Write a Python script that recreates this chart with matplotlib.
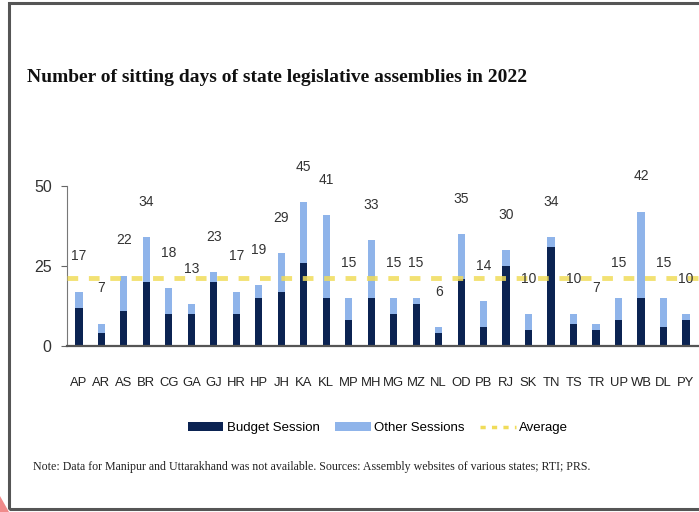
import matplotlib.pyplot as plt
from matplotlib.lines import Line2D
from matplotlib.patches import Patch, Rectangle, Polygon

# State codes and sitting days (2022)
states = ['AP', 'AR', 'AS', 'BR', 'CG', 'GA', 'GJ', 'HR', 'HP', 'JH', 'KA', 'KL',
          'MP', 'MH', 'MG', 'MZ', 'NL', 'OD', 'PB', 'RJ', 'SK', 'TN', 'TS', 'TR',
          'UP', 'WB', 'DL', 'PY']
budget = [12, 4, 11, 20, 10, 10, 20, 10, 15, 17, 26, 15,
          8, 15, 10, 13, 4, 21, 6, 25, 5, 31, 7, 5,
          8, 15, 6, 8]
total = [17, 7, 22, 34, 18, 13, 23, 17, 19, 29, 45, 41,
         15, 33, 15, 15, 6, 35, 14, 30, 10, 34, 10, 7,
         15, 42, 15, 10]
other = [t - b for t, b in zip(total, budget)]
average = sum(total) / len(total)

dark = '#0b2352'
light = '#8fb4ea'
yellow = '#f0dc5a'
sans = 'Liberation Sans'

fig = plt.figure(figsize=(6.99, 5.12), dpi=100)
fig.patch.set_facecolor('white')

# frame around the picture
fig.patches.append(Rectangle((9 / 699, 3 / 512), 700 / 699, 506 / 512, transform=fig.transFigure,
                             fill=False, edgecolor='#555555', linewidth=2.2))
fig.patches.append(Polygon([(0, 0), (9 / 699, 0), (0, 16 / 512)], closed=True,
                           transform=fig.transFigure, facecolor='#f08a8a', edgecolor='none'))

ax = fig.add_axes([67 / 699, (512 - 346) / 512, 632 / 699, 160 / 512])
x = range(len(states))
ax.bar(x, budget, width=0.32, color=dark, zorder=2)
ax.bar(x, other, width=0.32, bottom=budget, color=light, zorder=2)
ax.axhline(average, color=yellow, linewidth=3.5, dashes=(2.2, 2.2), alpha=0.85, zorder=3)

for i, t in enumerate(total):
    ax.text(i, t + 11, str(t), ha='center', va='center', fontsize=10,
            family=sans, color='#333333', clip_on=False)

ax.set_xlim(-0.53, len(states) - 0.42)
ax.set_ylim(0, 50)
ax.set_yticks([0, 25, 50])
ax.set_xticks(list(x))
ax.set_xticklabels(states, family=sans, fontsize=9.4, color='#222222')
for lab in ax.get_yticklabels():
    lab.set_family(sans)
    lab.set_fontsize(11.5)
    lab.set_color('#333333')
ax.tick_params(axis='x', length=0, pad=22)
ax.tick_params(axis='y', length=4, width=0.8, color='#666666', pad=7)
for s in ['top', 'right']:
    ax.spines[s].set_visible(False)
ax.spines['left'].set_color('#777777')
ax.spines['left'].set_linewidth(0.8)
ax.spines['bottom'].set_color('#555555')
ax.spines['bottom'].set_linewidth(1.6)

fig.text(27 / 699, 1 - 82 / 512, 'Number of sitting days of state legislative assemblies in 2022',
         family='Liberation Serif', fontweight='bold', fontsize=14, color='#111111',
         va='baseline')

handles = [Patch(facecolor=dark), Patch(facecolor=light),
           Line2D([0], [0], color=yellow, linewidth=2.5, dashes=(1.5, 1.8))]
fig.legend(handles, ['Budget Session', 'Other Sessions', 'Average'],
           loc='center', bbox_to_anchor=(378 / 699, 1 - 428 / 512), ncol=3, frameon=False,
           prop={'family': sans, 'size': 9.5}, handlelength=2.7, handleheight=0.6,
           columnspacing=1.2, handletextpad=0.25)

fig.text(33 / 699, 1 - 470 / 512,
         'Note: Data for Manipur and Uttarakhand was not available. '
         'Sources: Assembly websites of various states; RTI; PRS.',
         family='Liberation Serif', fontsize=8.6, color='#222222', va='baseline')

fig.savefig('out.png', dpi=100)
